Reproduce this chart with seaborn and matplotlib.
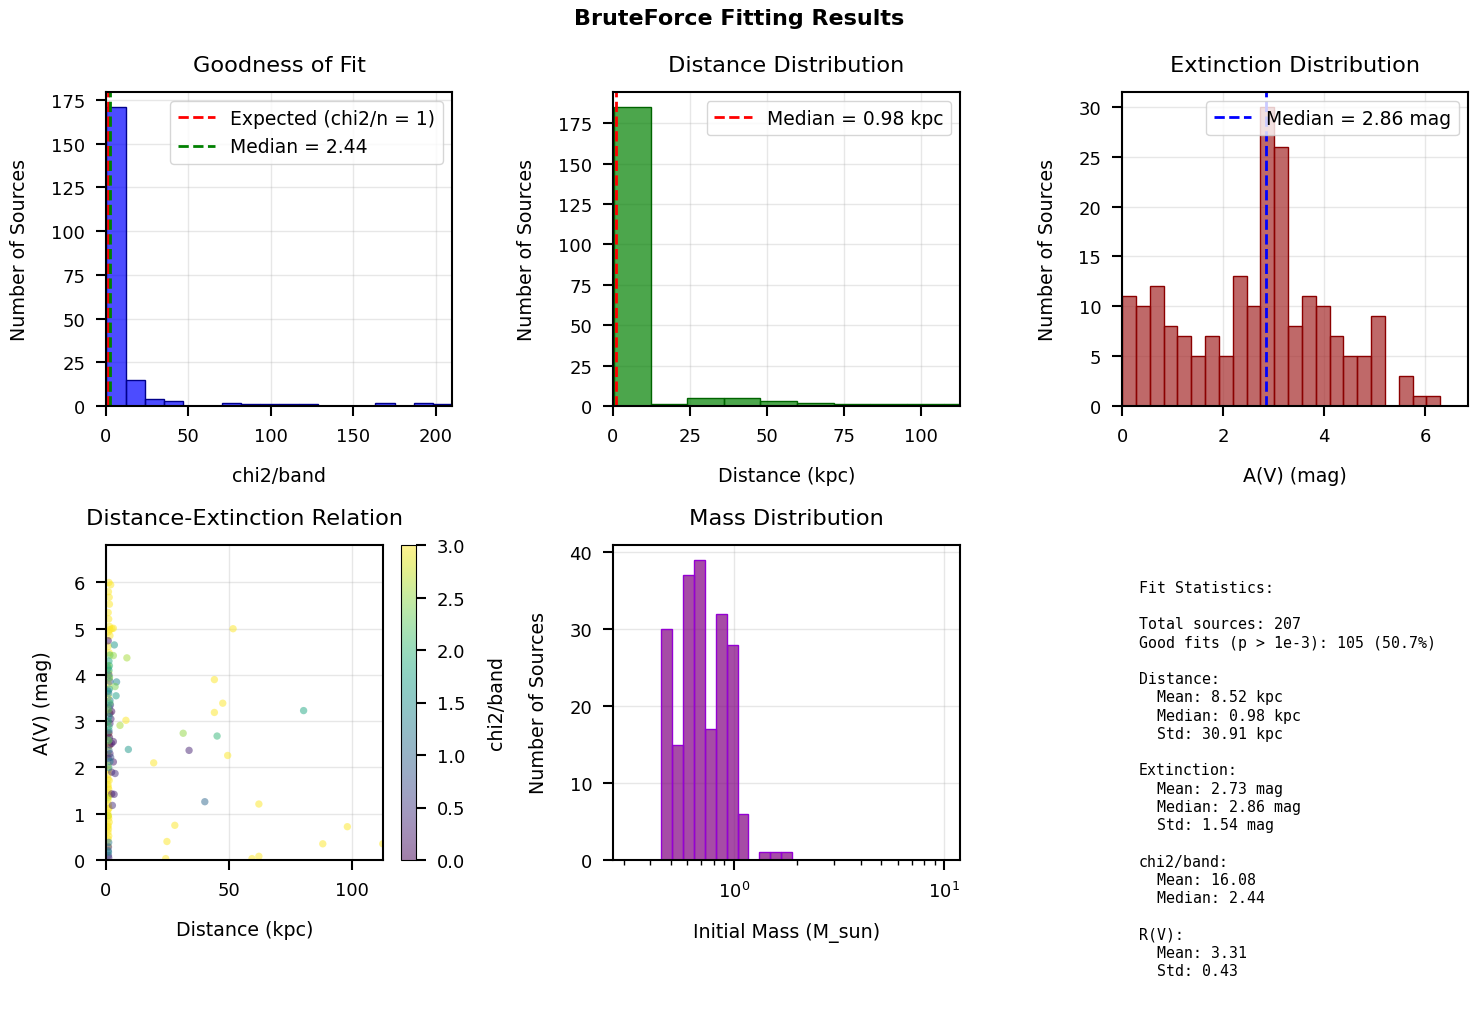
import numpy as np
import pandas as pd
import matplotlib
matplotlib.use("Agg")
import matplotlib.pyplot as plt
from matplotlib.colors import Normalize
from matplotlib.cm import ScalarMappable
from matplotlib.ticker import MultipleLocator
import seaborn as sns

# ============================================
# DATA
# ============================================

# chi2/band histogram (bin width ~11.66, first edge 0.3)
chi2_edges = 0.3 + 11.66 * np.arange(19)
chi2_counts = [171, 15, 4, 3, 0, 0, 2, 1, 1, 1, 1, 0, 0, 0, 2, 0, 2, 1]
chi2_median = 2.44

# distance histogram (kpc, bin width ~11.9)
dist_edges = 0.3 + 11.9 * np.arange(11)
dist_counts = [185, 1, 5, 5, 3, 2, 1, 1, 1, 1]
dist_median = 0.98

# extinction histogram (mag, 25 bins over 0..6.85)
av_edges = np.linspace(0, 6.85, 26)
av_counts = [11, 10, 12, 8, 7, 5, 7, 5, 13, 10, 30, 26, 8, 11, 10, 7, 5, 5, 9,
             0, 3, 1, 1, 0, 0]
av_median = 2.86

# initial mass histogram (29 log bins, 10^-0.5 .. 10^1)
mass_counts = [0, 0, 0, 30, 15, 37, 39, 17, 32, 28, 6, 0, 1, 1, 1,
               0, 0, 0, 0, 0, 0, 0, 0, 0, 0, 0, 0, 0, 0]

# distance-extinction scatter: (distance kpc, A(V) mag, chi2/band)
scatter_points = [
    # far sources
    (51.7, 5.00, 5.0), (44.1, 3.90, 4.0), (47.5, 3.39, 6.0), (44.1, 3.19, 3.5),
    (80.4, 3.23, 1.8), (31.4, 2.74, 2.5), (45.2, 2.68, 2.0), (33.8, 2.37, 0.3),
    (49.5, 2.26, 8.0), (19.4, 2.10, 4.0), (40.2, 1.26, 1.0), (62.2, 1.21, 5.0),
    (28.0, 0.75, 6.0), (98.2, 0.72, 9.0), (24.8, 0.40, 4.0), (88.2, 0.35, 7.0),
    (112.6, 0.35, 5.0), (24.3, 0.03, 3.5), (59.4, 0.03, 4.5), (62.2, 0.08, 6.0),
    # nearby, poor fits
    (1.2, 6.00, 4.2), (1.9, 5.95, 3.8), (1.3, 5.68, 5.1), (1.4, 5.53, 3.6),
    (1.1, 5.21, 6.3), (1.4, 5.05, 4.4), (3.0, 5.01, 3.3), (1.0, 4.93, 7.5),
    (1.6, 4.85, 3.9), (0.9, 4.62, 4.8), (1.3, 4.48, 3.2), (1.1, 4.05, 5.5),
    (1.3, 3.93, 3.4), (1.0, 3.80, 6.1), (0.9, 3.52, 4.0), (1.3, 3.18, 3.7),
    (0.9, 2.98, 5.2), (1.0, 2.72, 3.3), (0.8, 2.05, 4.6), (1.0, 1.95, 3.1),
    (0.9, 1.85, 8.2), (1.3, 1.72, 3.5), (0.8, 1.63, 5.0), (1.1, 1.53, 4.1),
    (0.9, 1.45, 3.6), (1.3, 1.40, 6.7), (0.8, 1.30, 3.9), (1.0, 1.20, 4.3),
    (0.9, 1.10, 5.8), (0.7, 1.02, 3.2), (1.1, 0.90, 4.9), (1.3, 0.82, 3.4),
    (0.9, 0.75, 7.1), (1.0, 0.67, 3.8), (0.8, 0.60, 4.5), (1.1, 0.52, 3.3),
    (0.9, 0.45, 5.4), (0.7, 0.72, 3.1), (1.2, 1.12, 3.7), (0.8, 1.75, 4.2),
    (0.7, 2.28, 3.9), (1.1, 2.45, 3.2), (0.8, 4.20, 3.6), (1.0, 5.80, 4.0),
    (0.9, 5.35, 3.3), (1.6, 4.98, 5.6), (2.4, 5.00, 4.1), (0.8, 0.30, 3.5),
    (1.0, 0.95, 3.9), (0.9, 1.58, 3.2), (8.1, 3.02, 3.2),
    # nearby, good fits
    (0.9, 4.74, 0.20), (2.3, 3.21, 0.10), (1.6, 3.17, 0.30), (1.6, 2.95, 0.40),
    (2.3, 2.52, 0.20), (1.6, 2.49, 0.10), (3.0, 2.56, 0.20), (1.6, 2.30, 0.30),
    (3.0, 2.12, 0.20), (2.3, 1.90, 0.30), (3.7, 1.87, 0.40), (2.3, 1.43, 0.20),
    (3.3, 1.42, 0.30), (2.6, 1.18, 0.40), (1.2, 2.75, 0.15), (2.0, 3.05, 0.25),
    (1.4, 2.65, 0.05), (0.9, 2.20, 0.35), (1.8, 3.35, 0.45), (1.0, 0.28, 0.50),
    (1.1, 0.05, 0.30),
    (1.2, 4.00, 0.6), (1.6, 3.86, 0.9), (1.2, 2.37, 1.1), (1.1, 0.38, 1.2),
    (1.0, 0.10, 0.6), (1.3, 3.30, 0.8), (1.9, 2.22, 0.7), (0.9, 3.65, 1.0),
    (1.1, 2.60, 0.9), (0.9, 0.20, 0.9),
    (3.4, 4.65, 1.6), (1.2, 4.30, 1.8), (4.3, 3.85, 1.4), (1.1, 3.60, 1.5),
    (4.1, 3.55, 1.7), (1.2, 3.10, 1.5), (1.2, 2.80, 1.4), (9.1, 2.39, 1.6),
    (1.6, 2.13, 1.3), (1.0, 0.17, 1.4), (1.4, 3.70, 1.7), (0.9, 4.15, 1.6),
    (0.9, 3.00, 1.8), (1.1, 2.00, 1.5), (1.6, 3.45, 1.3),
    (1.6, 4.43, 2.2), (3.0, 4.42, 2.5), (8.5, 4.37, 2.6), (1.4, 4.20, 2.0),
    (1.2, 4.10, 1.9), (3.7, 3.75, 2.4), (1.6, 3.39, 2.1), (5.7, 2.91, 2.6),
    (1.2, 2.88, 2.0), (0.9, 0.96, 2.8), (1.0, 3.25, 2.3), (1.4, 3.95, 2.2),
    (0.8, 1.35, 2.7), (1.1, 2.58, 2.4),
]

stats_text = """Fit Statistics:

Total sources: 207
Good fits (p > 1e-3): 105 (50.7%)

Distance:
  Mean: 8.52 kpc
  Median: 0.98 kpc
  Std: 30.91 kpc

Extinction:
  Mean: 2.73 mag
  Median: 2.86 mag
  Std: 1.54 mag

chi2/band:
  Mean: 16.08
  Median: 2.44

R(V):
  Mean: 3.31
  Std: 0.43"""

# ============================================
# STYLE
# ============================================

sns.set_theme(style="ticks")
plt.rcParams.update({
    "font.family": ["DejaVu Sans"],
    "text.color": "black",
    "axes.labelcolor": "black",
    "xtick.color": "black",
    "ytick.color": "black",
    "xtick.labelsize": 13,
    "ytick.labelsize": 13,
    "axes.labelsize": 13.7,
    "axes.titlesize": 16.2,
    "legend.fontsize": 13.5,
    "axes.labelpad": 15.5,
    "axes.titlepad": 15,
    "xtick.major.pad": 8,
    "ytick.major.pad": 8,
    "xtick.major.size": 7,
    "ytick.major.size": 7,
    "xtick.major.width": 1.5,
    "ytick.major.width": 1.5,
    "xtick.minor.size": 3.5,
    "xtick.minor.width": 1.0,
    "axes.linewidth": 1.5,
    "axes.edgecolor": "black",
})

W, H = 1478, 1012


def px_box(x0, y0, x1, y1):
    """pixel box (top-left origin) -> figure fraction rect"""
    return [x0 / W, 1 - y1 / H, (x1 - x0) / W, (y1 - y0) / H]


def centers(edges):
    edges = np.asarray(edges)
    return 0.5 * (edges[:-1] + edges[1:])


def style_axis(ax):
    ax.grid(True, color="#b0b0b0", alpha=0.3)
    ax.set_axisbelow(True)
    for s in ax.spines.values():
        s.set_visible(True)
        s.set_color("black")


fig = plt.figure(figsize=(W / 100, H / 100), dpi=100)
fig.text(0.5, 1 - 19 / H, "BruteForce Fitting Results", ha="center",
         va="center", fontsize=16, fontweight="bold")

# --- Goodness of fit ---
ax1 = fig.add_axes(px_box(106, 93, 452, 407))
sns.histplot(x=centers(chi2_edges), weights=chi2_counts, bins=list(chi2_edges),
             color="blue", alpha=0.7, edgecolor="darkblue", linewidth=1, ax=ax1)
ax1.axvline(1, color="red", linestyle="--", linewidth=2,
            label="Expected (chi2/n = 1)")
ax1.axvline(chi2_median, color="green", linestyle="--", linewidth=2,
            label=f"Median = {chi2_median:.2f}")
ax1.set_xlim(0, 210)
ax1.set_xlabel("chi2/band")
ax1.set_ylabel("Number of Sources")
ax1.set_title("Goodness of Fit")
ax1.legend(loc="upper right")
style_axis(ax1)

# --- Distance distribution ---
ax2 = fig.add_axes(px_box(613, 93, 960, 407))
sns.histplot(x=centers(dist_edges), weights=dist_counts, bins=list(dist_edges),
             color="green", alpha=0.7, edgecolor="darkgreen", linewidth=1, ax=ax2)
ax2.axvline(dist_median, color="red", linestyle="--", linewidth=2,
            label=f"Median = {dist_median:.2f} kpc")
ax2.set_xlim(0, 112.7)
ax2.xaxis.set_major_locator(MultipleLocator(25))
ax2.set_xlabel("Distance (kpc)")
ax2.set_ylabel("Number of Sources")
ax2.set_title("Distance Distribution")
ax2.legend(loc="upper right")
style_axis(ax2)

# --- Extinction distribution ---
ax3 = fig.add_axes(px_box(1122, 93, 1468, 407))
sns.histplot(x=centers(av_edges), weights=av_counts, bins=list(av_edges),
             color="brown", alpha=0.7, edgecolor="darkred", linewidth=1, ax=ax3)
ax3.axvline(av_median, color="blue", linestyle="--", linewidth=2,
            label=f"Median = {av_median:.2f} mag")
ax3.set_xlim(0, 6.85)
ax3.set_xlabel("A(V) (mag)")
ax3.set_ylabel("Number of Sources")
ax3.set_title("Extinction Distribution")
ax3.legend(loc="upper right")
style_axis(ax3)

# --- Distance vs extinction ---
df = pd.DataFrame(scatter_points, columns=["distance", "av", "chi2"])
ax4 = fig.add_axes(px_box(106, 546, 383, 861))
norm = Normalize(vmin=0, vmax=3)
sns.scatterplot(data=df, x="distance", y="av", hue="chi2", palette="viridis",
                hue_norm=norm, s=28, alpha=0.5, linewidth=0, legend=False,
                ax=ax4)
ax4.set_xlim(0, 112.7)
ax4.set_ylim(0, 6.81)
ax4.xaxis.set_major_locator(MultipleLocator(50))
ax4.set_xlabel("Distance (kpc)")
ax4.set_ylabel("A(V) (mag)")
ax4.set_title("Distance-Extinction Relation")
style_axis(ax4)

cax = fig.add_axes(px_box(401, 546, 416, 861))
sm = ScalarMappable(norm=norm, cmap="viridis")
cb = fig.colorbar(sm, cax=cax, alpha=0.5)
cb.set_label("chi2/band")
cb.outline.set_linewidth(0.8)

# --- Mass distribution ---
ax5 = fig.add_axes(px_box(613, 546, 960, 861))
sns.histplot(x=np.logspace(-0.5, 1, len(mass_counts) + 1)[:-1] * 1.06,
             weights=mass_counts, log_scale=True,
             bins=len(mass_counts), binrange=(-0.5, 1),
             color="purple", alpha=0.7, edgecolor="darkviolet", linewidth=1,
             ax=ax5)
ax5.set_xlabel("Initial Mass (M_sun)")
ax5.set_ylabel("Number of Sources")
ax5.set_title("Mass Distribution")
style_axis(ax5)

# --- Summary text ---
fig.text(1139 / W, 1 - 581 / H, stats_text, family="monospace",
         fontsize=10.7, va="top", ha="left", linespacing=1.27)

fig.savefig("out.png", dpi=100)
